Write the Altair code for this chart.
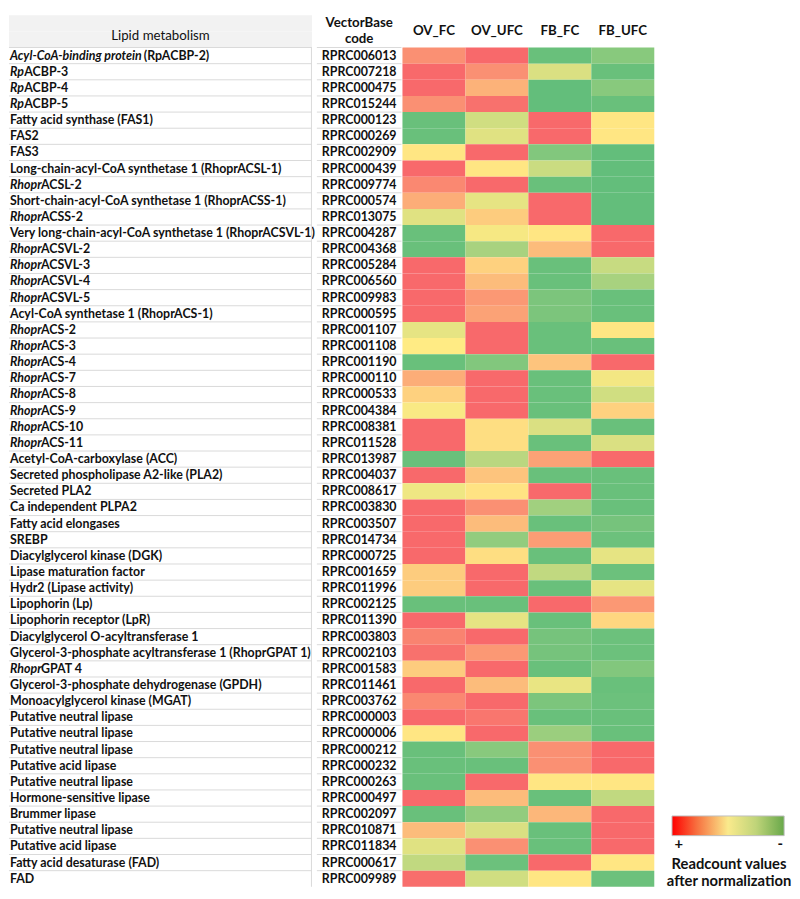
import altair as alt
import pandas as pd

# ---------------- data ----------------
codes = ["RPRC006013", "RPRC007218", "RPRC000475", "RPRC015244", "RPRC000123", "RPRC000269",
         "RPRC002909", "RPRC000439", "RPRC009774", "RPRC000574", "RPRC013075", "RPRC004287",
         "RPRC004368", "RPRC005284", "RPRC006560", "RPRC009983", "RPRC000595", "RPRC001107",
         "RPRC001108", "RPRC001190", "RPRC000110", "RPRC000533", "RPRC004384", "RPRC008381",
         "RPRC011528", "RPRC013987", "RPRC004037", "RPRC008617", "RPRC003830", "RPRC003507",
         "RPRC014734", "RPRC000725", "RPRC001659", "RPRC011996", "RPRC002125", "RPRC011390",
         "RPRC003803", "RPRC002103", "RPRC001583", "RPRC011461", "RPRC003762", "RPRC000003",
         "RPRC000006", "RPRC000212", "RPRC000232", "RPRC000263", "RPRC000497", "RPRC002097",
         "RPRC010871", "RPRC011834", "RPRC000617", "RPRC009989"]

# italic leading part of each label, and the upright remainder
italic_part = ["Acyl-CoA-binding protein", "Rp", "Rp", "Rp", "", "", "", "", "Rhopr", "", "Rhopr", "",
               "Rhopr", "Rhopr", "Rhopr", "Rhopr", "", "Rhopr", "Rhopr", "Rhopr", "Rhopr", "Rhopr",
               "Rhopr", "Rhopr", "Rhopr", "", "", "", "", "", "", "", "", "", "", "", "", "", "Rhopr",
               "", "", "", "", "", "", "", "", "", "", "", "", ""]
plain_part = ["(RpACBP-2)", "ACBP-3", "ACBP-4", "ACBP-5", "Fatty acid synthase (FAS1)", "FAS2", "FAS3",
              "Long-chain-acyl-CoA synthetase 1 (RhoprACSL-1)", "ACSL-2",
              "Short-chain-acyl-CoA synthetase 1 (RhoprACSS-1)", "ACSS-2",
              "Very long-chain-acyl-CoA synthetase 1 (RhoprACSVL-1)", "ACSVL-2", "ACSVL-3", "ACSVL-4",
              "ACSVL-5", "Acyl-CoA synthetase 1 (RhoprACS-1)", "ACS-2", "ACS-3", "ACS-4", "ACS-7",
              "ACS-8", "ACS-9", "ACS-10", "ACS-11", "Acetyl-CoA-carboxylase (ACC)",
              "Secreted phospholipase A2-like (PLA2)", "Secreted PLA2", "Ca independent PLPA2",
              "Fatty acid elongases", "SREBP", "Diacylglycerol kinase (DGK)", "Lipase maturation factor",
              "Hydr2 (Lipase activity)", "Lipophorin (Lp)", "Lipophorin receptor (LpR)",
              "Diacylglycerol O-acyltransferase 1",
              "Glycerol-3-phosphate acyltransferase 1 (RhoprGPAT 1)", "GPAT 4",
              "Glycerol-3-phosphate dehydrogenase (GPDH)", "Monoacylglycerol kinase (MGAT)",
              "Putative neutral lipase", "Putative neutral lipase", "Putative neutral lipase",
              "Putative acid lipase", "Putative neutral lipase", "Hormone-sensitive lipase",
              "Brummer lipase", "Putative neutral lipase", "Putative acid lipase",
              "Fatty acid desaturase (FAD)", "FAD"]

samples = ["OV_FC", "OV_UFC", "FB_FC", "FB_UFC"]

# relative readcount level after normalization (1 = highest "+", 0 = lowest "-")
ov_fc = [0.85, 1.0, 1.0, 0.85, 0.02, 0.02, 0.52, 1.0, 0.88, 0.74,
         0.40, 0.02, 0.02, 1.0, 1.0, 1.0, 1.0, 0.42, 0.50, 0.02,
         0.74, 0.60, 0.48, 1.0, 1.0, 0.02, 1.0, 0.45, 1.0, 1.0,
         1.0, 1.0, 0.62, 0.62, 0.02, 1.0, 0.90, 0.97, 0.62, 1.0,
         0.88, 1.0, 0.52, 0.02, 0.02, 0.02, 1.0, 0.02, 0.68, 0.40,
         0.30, 0.98]
ov_ufc = [1.0, 0.85, 0.72, 0.97, 0.35, 0.40, 1.0, 0.52, 1.0, 0.42,
          0.62, 0.47, 0.22, 0.60, 0.68, 0.82, 0.78, 1.0, 1.0, 0.10,
          1.0, 1.0, 1.0, 0.55, 0.55, 0.28, 0.65, 0.53, 0.85, 0.68,
          0.15, 0.55, 1.0, 1.0, 0.02, 0.42, 1.0, 0.82, 1.0, 0.68,
          1.0, 0.95, 1.0, 0.12, 0.02, 1.0, 0.68, 0.15, 0.38, 0.85,
          0.03, 0.35]
fb_fc = [0.02, 0.38, 0.0, 0.0, 1.0, 1.0, 0.10, 0.33, 0.02, 1.0,
         1.0, 0.52, 0.68, 0.02, 0.02, 0.08, 0.08, 0.02, 0.02, 0.65,
         0.02, 0.02, 0.02, 0.38, 0.02, 0.78, 0.02, 1.0, 0.20, 0.02,
         0.80, 0.02, 0.30, 0.02, 1.0, 0.02, 0.06, 0.06, 0.02, 0.43,
         0.08, 0.02, 0.18, 0.85, 0.85, 0.52, 0.02, 0.70, 0.02, 0.02,
         1.0, 0.52]
fb_ufc = [0.12, 0.02, 0.12, 0.02, 0.52, 0.52, 0.0, 0.0, 0.0, 0.0,
          0.0, 1.0, 1.0, 0.32, 0.22, 0.02, 0.02, 0.52, 0.02, 1.0,
          0.46, 0.35, 0.60, 0.02, 0.38, 1.0, 0.02, 0.02, 0.02, 0.06,
          0.03, 0.42, 0.03, 0.42, 0.82, 0.58, 0.03, 0.03, 0.10, 0.02,
          0.03, 0.02, 0.02, 1.0, 1.0, 0.52, 0.30, 1.0, 1.0, 1.0,
          0.52, 0.03]

# ---------------- layout / style ----------------
FONT = "Lato"
FS = 12.6
H = 886
W_LAB, W_CODE, W_HEAT, W_LEG = 308, 86, 256, 138
GRID = "#D9D9D9"
TXT = "#111111"
prefix_width = {"Rp": 14.5, "Rhopr": 31.5, "Acyl-CoA-binding protein": 136}

ydomain = ["h1", "h2"] + codes
yscale = alt.Scale(domain=ydomain, paddingInner=0, paddingOuter=0)

rows = pd.DataFrame({"row": codes, "ital": italic_part, "plain": plain_part})
hdr = pd.DataFrame({"row": ["h1", "h2"]})


def Y(**kw):
    return alt.Y("row:N", scale=yscale, axis=None, **kw)


def gridlines(width):
    return alt.Chart(rows).mark_rule(color=GRID, strokeWidth=1).encode(
        y=Y(bandPosition=0), x=alt.value(0), x2=alt.value(width))


# ---- label column ----
lab_layers = [
    alt.Chart(hdr).mark_rect(color="#F2F2F2").encode(y=Y()),
    gridlines(W_LAB),
    alt.Chart(pd.DataFrame({"row": ["h2"], "t": ["Lipid metabolism"]})).mark_text(
        font=FONT, fontSize=13.5, color=TXT, dy=-3, align="center").encode(
        y=Y(), x=alt.value(W_LAB / 2), text="t:N"),
    alt.Chart(rows).transform_filter("datum.ital == ''").mark_text(
        font=FONT, fontSize=FS, fontWeight="bold", align="left", color=TXT).encode(
        y=Y(), x=alt.value(1), text="plain:N"),
    alt.Chart(rows).transform_filter("datum.ital != ''").mark_text(
        font=FONT, fontSize=FS, fontWeight="bold", fontStyle="italic", align="left", color=TXT).encode(
        y=Y(), x=alt.value(1), text="ital:N"),
]
for pre, w in prefix_width.items():
    lab_layers.append(
        alt.Chart(rows).transform_filter(alt.datum.ital == pre).mark_text(
            font=FONT, fontSize=FS, fontWeight="bold", align="left", color=TXT).encode(
            y=Y(), x=alt.value(1 + w), text="plain:N"))
lab_layers.append(
    alt.Chart(hdr).transform_filter("datum.row == 'h2'").mark_rule(color=GRID).encode(
        y=Y(bandPosition=1), x=alt.value(W_LAB - 0.5), y2=alt.value(H))
)
lab = alt.layer(*lab_layers).properties(width=W_LAB, height=H)

# ---- code column ----
code_hdr = pd.DataFrame({"row": ["h1", "h2"], "t": ["VectorBase", "code"]})
code = alt.layer(
    gridlines(W_CODE),
    alt.Chart(code_hdr).mark_text(font=FONT, fontSize=13.5, fontWeight="bold", color=TXT).encode(
        y=Y(), x=alt.value(W_CODE / 2), text="t:N"),
    alt.Chart(rows).mark_text(font=FONT, fontSize=FS, fontWeight="bold", color=TXT).encode(
        y=Y(), x=alt.value(W_CODE / 2), text="row:N"),
).properties(width=W_CODE, height=H)

# ---- heatmap ----
heat_df = pd.DataFrame({"row": codes, "OV_FC": ov_fc, "OV_UFC": ov_ufc,
                        "FB_FC": fb_fc, "FB_UFC": fb_ufc}).melt(
    id_vars="row", var_name="sample", value_name="level")
xscale = alt.Scale(domain=samples, paddingInner=0, paddingOuter=0)
heat = alt.layer(
    alt.Chart(heat_df).mark_rect(strokeWidth=0).encode(
        x=alt.X("sample:N", scale=xscale, axis=None),
        y=Y(),
        color=alt.Color("level:Q", legend=None,
                        scale=alt.Scale(domain=[0, 0.5, 1],
                                        range=["#63BE7B", "#FFEB84", "#F8696B"],
                                        interpolate="rgb")),
    ),
    alt.Chart(pd.DataFrame({"sample": samples, "row": ["h1"] * 4})).mark_text(
        font=FONT, fontSize=13.5, fontWeight="bold", color=TXT).encode(
        x=alt.X("sample:N", scale=xscale, axis=None),
        y=Y(bandPosition=1),
        text="sample:N"),
).properties(width=W_HEAT, height=H)

# ---- legend ----
one = pd.DataFrame({"k": [0]})
grad = alt.Gradient(gradient="linear", x1=0, x2=1, y1=0, y2=0,
                    stops=[alt.GradientStop(color="#FF0000", offset=0),
                           alt.GradientStop(color="#F7703F", offset=0.22),
                           alt.GradientStop(color="#FAEA8C", offset=0.5),
                           alt.GradientStop(color="#BFD479", offset=0.75),
                           alt.GradientStop(color="#68A84A", offset=1)])
leg = alt.layer(
    alt.Chart(one).mark_rect(color=grad, stroke="#BFBFBF", strokeWidth=1).encode(
        x=alt.value(18), x2=alt.value(132), y=alt.value(814), y2=alt.value(834)),
    alt.Chart(one).mark_text(font=FONT, fontSize=15, fontWeight="bold", color=TXT).encode(
        x=alt.value(25), y=alt.value(843), text=alt.value("+")),
    alt.Chart(one).mark_text(font=FONT, fontSize=15, fontWeight="bold", color=TXT).encode(
        x=alt.value(128), y=alt.value(843), text=alt.value("-")),
    alt.Chart(one).mark_text(font=FONT, fontSize=15, fontWeight="bold", color=TXT).encode(
        x=alt.value(76), y=alt.value(863), text=alt.value("Readcount values")),
    alt.Chart(one).mark_text(font=FONT, fontSize=15, fontWeight="bold", color=TXT).encode(
        x=alt.value(76), y=alt.value(880), text=alt.value("after normalization")),
).properties(width=W_LEG, height=H)

chart = alt.hconcat(lab, code, heat, leg, spacing=0).configure_view(stroke=None).properties(padding=0)
chart.save("out.html", embed_options={"renderer": "svg", "actions": False})
